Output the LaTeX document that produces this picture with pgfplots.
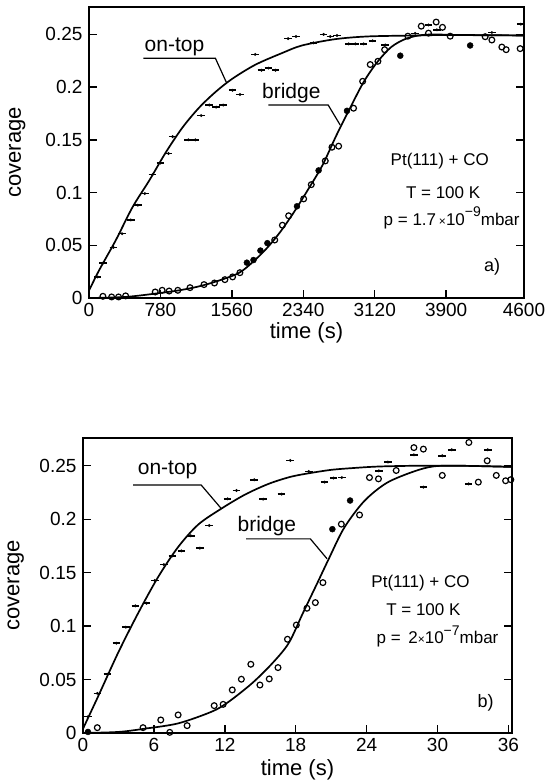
\documentclass[border=0pt]{standalone}
\usepackage{fontspec}
\setmainfont{Liberation Sans}
\usepackage{pgfplots}
\pgfplotsset{compat=1.18}
\newcommand{\fs}[1]{\fontsize{#1}{#1}\selectfont}
\pgfdeclareplotmark{dashdot}{%
  \pgfpathmoveto{\pgfqpoint{-\pgfplotmarksize}{0pt}}%
  \pgfpathlineto{\pgfqpoint{\pgfplotmarksize}{0pt}}%
  \pgfusepathqstroke
  \pgfpathcircle{\pgfpointorigin}{0.42\pgfplotmarksize}%
  \pgfusepathqfill}
\pgfplotsset{
  panel/.style={
    scale only axis,
    axis line style={line width=1.8pt},
    tick style={line width=1.4pt, black},
    major tick length=8pt,
    tick align=inside,
    xtick pos=bottom, ytick pos=both,
    ymin=0, ymax=0.276,
    ytick={0,0.05,0.1,0.15,0.2,0.25},
    yticklabels={0,0.05,0.1,0.15,0.2,0.25},
    tick label style={font=\fs{19}},
    yticklabel style={xshift=-3pt},
    xticklabel style={yshift=-2pt},
    label style={font=\fs{22}},
  },
  fit/.style={line width=1.7pt, black, smooth, no markers},
  ontop/.style={only marks, mark=dashdot, mark size=3.8pt, mark options={line width=1.6pt, black, fill=black}},
  bridge/.style={only marks, mark=o, mark size=2.9pt, mark options={line width=1.2pt, black}},
  bridgef/.style={only marks, mark=*, mark size=3pt, mark options={black, fill=black}},
}
\begin{document}
\begin{tikzpicture}
\useasboundingbox (0,0) rectangle (548pt,781pt);
% ---------------- panel a ----------------
\begin{axis}[panel, at={(89pt,483pt)}, anchor=south west, width=435pt, height=291pt,
  xmin=0, xmax=4750,
  xtick={0,780,1560,2340,3120,3900,4750},
  xticklabels={0,780,1560,2340,3120,3900,4600},
  xlabel={time (s)}, ylabel={coverage},
  xlabel style={at={(axis description cs:0.5,-0.12)}, anchor=center},
  ylabel style={at={(axis description cs:-0.165,0.5)}, anchor=center}]
\addplot[fit] coordinates {(0,0.007) (111,0.0264) (292,0.0547) (475,0.0861) (657,0.1113) (838,0.138) (1020,0.1616) (1202,0.1805) (1384,0.1956) (1566,0.208) (1820,0.2214) (2111,0.2324) (2326,0.2395) (2689,0.2455) (3053,0.2481) (3598,0.249) (3900,0.2495) (4300,0.2492) (4750,0.249)};
\addplot[fit] coordinates {(0,0.000) (400,0.001) (800,0.005) (1000,0.0075) (1200,0.011) (1400,0.016) (1636,0.0237) (1800,0.035) (1950,0.048) (2100,0.064) (2250,0.083) (2400,0.104) (2550,0.126) (2700,0.154) (2850,0.180) (3000,0.205) (3150,0.224) (3300,0.238) (3450,0.2455) (3600,0.249) (3767,0.250) (4000,0.2495) (4750,0.249)};
\addplot[ontop] coordinates {(95,0.020) (152,0.033) (266,0.048) (361,0.061) (457,0.074) (533,0.088) (609,0.099) (693,0.117) (780,0.128) (868,0.137) (913,0.153) (1084,0.150) (1161,0.150) (1225,0.173) (1313,0.183) (1389,0.181) (1465,0.183) (1568,0.197) (1648,0.193) (1815,0.231) (1883,0.216) (1960,0.218) (2036,0.216) (2175,0.246) (2260,0.248) (2450,0.242) (2562,0.250) (2635,0.248) (2708,0.249) (2835,0.241) (2908,0.241) (2999,0.241) (3097,0.244) (3235,0.240) (3562,0.251) (3707,0.259) (3799,0.2544) (4399,0.2518) (4715,0.2597)};
\addplot[bridge] coordinates {(152,0.0016) (247,0.001) (323,0.001) (400,0.002) (723,0.0057) (799,0.0073) (875,0.0066) (970,0.0073) (1103,0.0098) (1256,0.0127) (1370,0.0142) (1484,0.0174) (1568,0.020) (1648,0.024) (2028,0.055) (2112,0.069) (2180,0.078) (2344,0.094) (2427,0.1075) (2580,0.130) (2653,0.143) (2726,0.144) (2889,0.180) (2988,0.2055) (3071,0.2214) (3155,0.2245) (3228,0.2355) (3482,0.2483) (3628,0.2578) (3707,0.2512) (3791,0.2617) (3860,0.2567) (3944,0.2483) (4326,0.2478) (4399,0.2447) (4508,0.238) (4555,0.2355) (4708,0.2365)};
\addplot[bridgef] coordinates {(1724,0.0335) (1796,0.036) (1872,0.045) (1948,0.052) (2271,0.087) (2507,0.121) (2817,0.1775) (3399,0.2298) (4162,0.2395)};
\node[font=\fs{21}] at (axis cs:933,0.238) {on-top};
\draw[line width=1.2pt] (axis cs:595,0.2274) -- (axis cs:1380,0.2274) -- (axis cs:1500,0.2045);
\node[font=\fs{21}] at (axis cs:2209,0.194) {bridge};
\draw[line width=1.2pt] (axis cs:1958,0.183) -- (axis cs:2612,0.183) -- (axis cs:2743,0.164);
\node[font=\fs{17}] at (axis cs:3830,0.130) {Pt(111) + CO};
\node[font=\fs{17}] at (axis cs:3867,0.1003) {T = 100 K};
\node[font=\fs{17}] at (axis cs:3960,0.076) {p = 1.7\,{\fs{12}×}10\raisebox{0.5em}{\fs{14}−9}mbar};
\node[font=\fs{18}] at (axis cs:4401,0.0292) {a)};
\end{axis}
% ---------------- panel b ----------------
\begin{axis}[panel, at={(83pt,48pt)}, anchor=south west, width=429pt, height=295pt,
  xmin=0, xmax=36.3,
  xtick={0,6,12,18,24,30,36},
  xticklabels={0,6,12,18,24,30,36},
  xlabel={time (s)}, ylabel={coverage},
  xlabel style={at={(axis description cs:0.5,-0.125)}, anchor=center},
  ylabel style={at={(axis description cs:-0.157,0.5)}, anchor=center}]
\addplot[fit] coordinates {(0,0.004) (1.27,0.034) (2.97,0.075) (4.66,0.112) (6.36,0.146) (8.05,0.174) (9.75,0.195) (11.72,0.210) (13.7,0.223) (15.68,0.233) (17.5,0.2395) (19,0.2428) (21,0.2462) (23,0.248) (25,0.2493) (28,0.250) (32,0.250) (36.3,0.249)};
\addplot[fit] coordinates {(0,0.000) (3,0.001) (5.2,0.004) (8.05,0.009) (10.9,0.020) (12.3,0.029) (14.3,0.0465) (16.0,0.065) (17.4,0.084) (18.6,0.112) (19.9,0.142) (20.8,0.163) (22.1,0.192) (23.8,0.217) (25.7,0.234) (28,0.2447) (29.7,0.2495) (32,0.250) (36.3,0.249)};
\addplot[ontop] coordinates {(0.42,0.0153) (1.21,0.0371) (2.06,0.055) (2.82,0.084) (3.62,0.099) (4.43,0.119) (5.37,0.1214) (6.07,0.1426) (6.84,0.1576) (7.57,0.1657) (8.33,0.1704) (9.12,0.1845) (9.89,0.1729) (10.68,0.1941) (12.23,0.2191) (12.99,0.2269) (14.49,0.2369) (15.25,0.2188) (16.8,0.2235) (17.54,0.255) (19.1,0.2447) (20.45,0.2347) (21.2,0.2385) (21.9,0.239) (25.03,0.2453) (25.8,0.2535) (28.0,0.2603) (28.8,0.230) (30.4,0.2594) (31.2,0.265) (32.63,0.233) (34.25,0.265)};
\addplot[bridge] coordinates {(1.21,0.005) (5.08,0.005) (6.58,0.0122) (7.34,0.0006) (8.05,0.0169) (8.81,0.0069) (11.1,0.0256) (11.86,0.0268) (12.63,0.0403) (13.4,0.0503) (14.2,0.0643) (14.97,0.0449) (15.76,0.0506) (16.5,0.0612) (17.3,0.0877) (18.05,0.101) (18.95,0.1167) (19.66,0.122) (20.3,0.1407) (21.86,0.1954) (23.4,0.204) (24.24,0.239) (25.0,0.2378) (26.5,0.2456) (28.0,0.267) (28.8,0.2656) (30.4,0.241) (32.65,0.2718) (33.45,0.2347) (34.2,0.2547) (34.97,0.241) (35.76,0.236) (36.2,0.237)};
\addplot[bridgef] coordinates {(0.42,0.001) (21.1,0.1907) (22.6,0.2175)};
\node[font=\fs{21}] at (axis cs:7.16,0.246) {on-top};
\draw[line width=1.2pt] (axis cs:4.24,0.232) -- (axis cs:10.0,0.232) -- (axis cs:11.72,0.2097);
\node[font=\fs{21}] at (axis cs:15.55,0.1934) {bridge};
\draw[line width=1.2pt] (axis cs:13.8,0.1816) -- (axis cs:19.24,0.1816) -- (axis cs:20.65,0.163);
\node[font=\fs{17}] at (axis cs:28.56,0.1404) {Pt(111) + CO};
\node[font=\fs{17}] at (axis cs:28.8,0.115) {T = 100 K};
\node[font=\fs{17}] at (axis cs:30.0,0.0905) {p = \,2{\fs{12}×}10\raisebox{0.5em}{\fs{14}−7}mbar};
\node[font=\fs{18}] at (axis cs:34.07,0.028) {b)};
\end{axis}
\end{tikzpicture}
\end{document}
